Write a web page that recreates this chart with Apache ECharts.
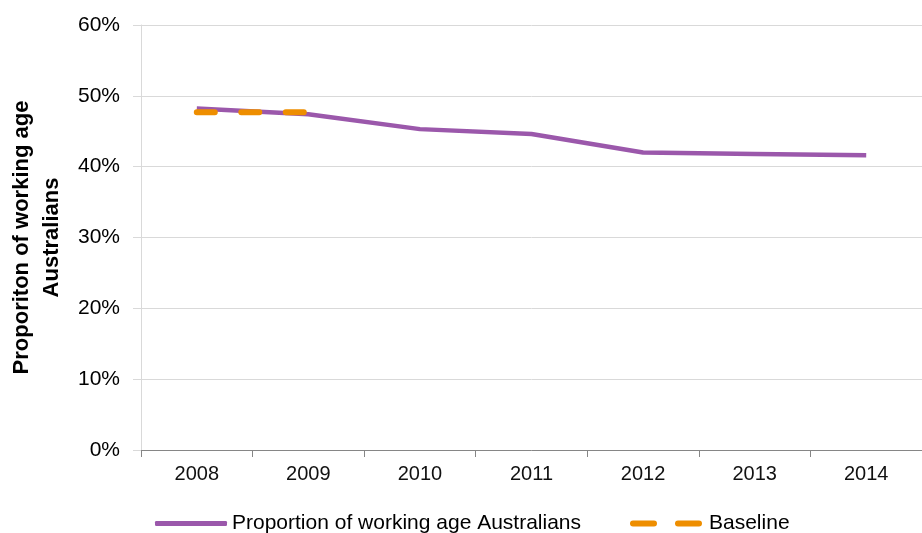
<!DOCTYPE html>
<html>
<head>
<meta charset="utf-8">
<script src="https://cdn.jsdelivr.net/npm/echarts@6/dist/echarts.min.js"></script>
<style>
  html, body { margin: 0; padding: 0; background: #fff; }
  #main { width: 922px; height: 533px; }
</style>
</head>
<body>
<div id="main"></div>
<script>
// data
var years = ['2008', '2009', '2010', '2011', '2012', '2013', '2014'];
var proportion = [48.2, 47.4, 45.3, 44.6, 42.0, 41.8, 41.6];
var baseline = [47.7, 47.7, null, null, null, null, null];
var yTicks = [0, 10, 20, 30, 40, 50, 60];

var purple = '#9B58AB';
var orange = '#EE8E00';
var font = 'Liberation Sans';

var chart = echarts.init(document.getElementById('main'));

var option = {
    animation: false,
    grid: {
        left: 141,
        right: 0,
        top: 25,
        bottom: 83,
        outerBoundsMode: 'none'
    },
    legend: [
        {
            left: 150,
            top: 508,
            itemWidth: 72,
            itemHeight: 5,
            itemGap: 0,
            textStyle: { fontFamily: font, fontSize: 21, color: '#000' },
            data: [{
                name: 'Proportion of working age Australians',
                icon: 'roundRect',
                itemStyle: { color: purple }
            }]
        },
        {
            left: 625,
            top: 508,
            itemWidth: 76,
            itemHeight: 6,
            textStyle: { fontFamily: font, fontSize: 21, color: '#000' },
            data: [{
                name: 'Baseline',
                icon: 'path://M3,0h21a3,3 0 0 1 0,6h-21a3,3 0 0 1 0,-6z M48,0h21a3,3 0 0 1 0,6h-21a3,3 0 0 1 0,-6z',
                itemStyle: { color: orange }
            }]
        }
    ],
    xAxis: {
        type: 'category',
        data: years,
        boundaryGap: true,
        axisLine: { lineStyle: { color: '#868686' } },
        axisTick: { show: true, length: 7, lineStyle: { color: '#868686' } },
        axisLabel: { fontFamily: font, fontSize: 20, color: '#111', margin: 14 }
    },
    yAxis: {
        type: 'value',
        min: yTicks[0],
        max: yTicks[yTicks.length - 1],
        interval: 10,
        name: 'Proporiton of working age\nAustralians',
        nameLocation: 'middle',
        nameRotate: 90,
        nameGap: 71,
        nameTextStyle: { fontFamily: font, fontSize: 22, fontWeight: 'bold', color: '#000', lineHeight: 30 },
        axisLine: { show: true, lineStyle: { color: '#d9d9d9' } },
        axisTick: { show: true, length: 8, lineStyle: { color: '#d9d9d9' } },
        axisLabel: {
            fontFamily: font, fontSize: 21, color: '#000', margin: 21,
            formatter: '{value}%'
        },
        splitLine: { lineStyle: { color: '#d9d9d9' } }
    },
    series: [
        {
            name: 'Proportion of working age Australians',
            type: 'line',
            data: proportion,
            symbol: 'none',
            lineStyle: { color: purple, width: 4.5 },
            itemStyle: { color: purple }
        },
        {
            name: 'Baseline',
            type: 'line',
            data: baseline,
            symbol: 'none',
            lineStyle: { color: orange, width: 6, type: [18, 26.5], cap: 'round' },
            itemStyle: { color: orange }
        }
    ]
};

chart.setOption(option);
</script>
</body>
</html>
